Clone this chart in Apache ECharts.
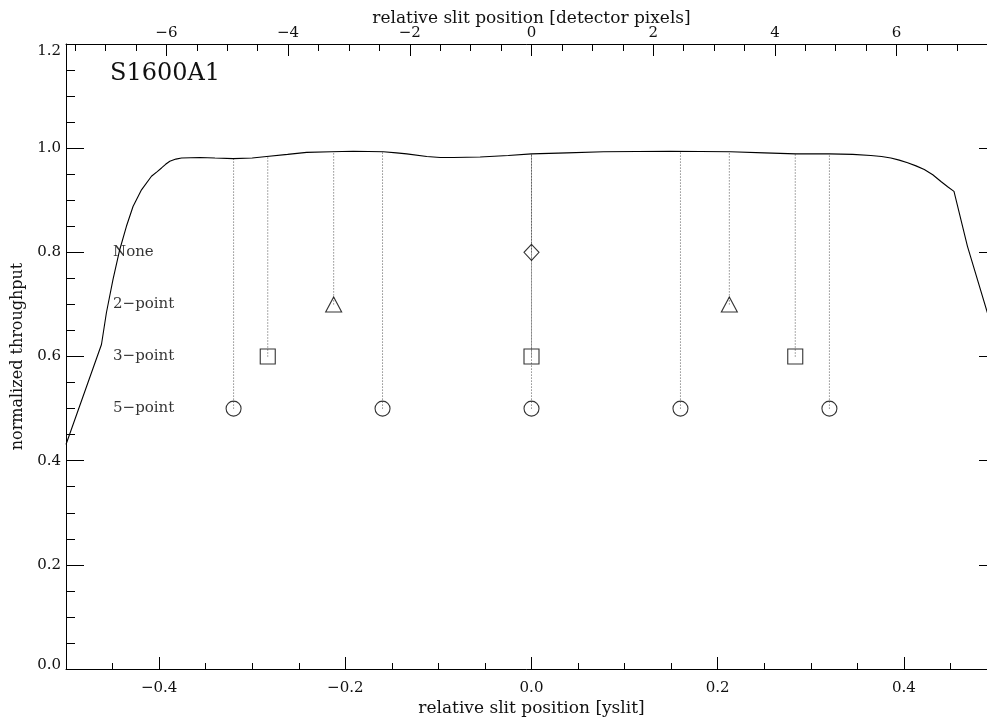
<!DOCTYPE html>
<html>
<head>
<meta charset="utf-8">
<script src="https://cdn.jsdelivr.net/npm/echarts@6/dist/echarts.min.js"></script>
<style>html,body{margin:0;padding:0;background:#fff;}#c{width:987px;height:722px;}</style>
</head>
<body>
<div id="c"></div>
<script>
// ---- data ----
const curveX = [-0.5, -0.4619, -0.4566, -0.4495, -0.4423, -0.4351, -0.4280, -0.4189, -0.4082, -0.4020, -0.3974, -0.3930, -0.3885, -0.3820, -0.3759, -0.3562, -0.3400, -0.3204, -0.3000, -0.2845, -0.2620, -0.2415, -0.2150, -0.1914, -0.1591, -0.1450, -0.1340, -0.1125, -0.0980, -0.0839, -0.0552, -0.0250, 0.0, 0.0380, 0.0774, 0.1491, 0.2137, 0.2500, 0.2839, 0.3198, 0.3450, 0.3645, 0.3760, 0.3860, 0.3950, 0.4040, 0.4130, 0.4219, 0.4310, 0.4398, 0.4470, 0.4538, 0.4682, 0.4897, 0.5];
const curveY = [0.431, 0.623, 0.684, 0.748, 0.805, 0.850, 0.888, 0.920, 0.946, 0.955, 0.962, 0.969, 0.975, 0.979, 0.981, 0.982, 0.981, 0.980, 0.981, 0.984, 0.988, 0.992, 0.993, 0.994, 0.993, 0.991, 0.989, 0.984, 0.982, 0.982, 0.983, 0.986, 0.989, 0.991, 0.993, 0.994, 0.993, 0.991, 0.989, 0.989, 0.988, 0.986, 0.984, 0.981, 0.977, 0.972, 0.966, 0.959, 0.949, 0.936, 0.926, 0.917, 0.812, 0.684, 0.62];

const methodNames = ['None', '2\u2212point', '3\u2212point', '5\u2212point'];
const methodLevel = [0.8, 0.7, 0.6, 0.5];
const noneX = [0.0];
const twoX = [-0.2125, 0.2125];
const threeX = [-0.2833, 0.0, 0.2833];
const fiveX = [-0.32, -0.16, 0.0, 0.16, 0.32];

const yTicks = [0.0, 0.2, 0.4, 0.6, 0.8, 1.0, 1.2];
const apertureName = 'S1600A1';
const pixRange = 7.65; // detector pixels spanned by yslit -0.5..0.5

// ---- helpers ----
function curveAt(x) {
  for (let i = 0; i < curveX.length - 1; i++) {
    if (x >= curveX[i] && x <= curveX[i + 1]) {
      const t = (x - curveX[i]) / (curveX[i + 1] - curveX[i]);
      return curveY[i] + t * (curveY[i + 1] - curveY[i]);
    }
  }
  return curveY[curveY.length - 1];
}
const FONT = 'DejaVu Serif';
const TXT = '#111';
const minus = s => s.replace('-', '\u2212');

const groups = [
  { xs: noneX, level: methodLevel[0], symbol: 'diamond', size: [15, 16] },
  { xs: twoX, level: methodLevel[1], symbol: 'triangle', size: [16, 15] },
  { xs: threeX, level: methodLevel[2], symbol: 'rect', size: 15 },
  { xs: fiveX, level: methodLevel[3], symbol: 'circle', size: 15 }
];

const series = [];
series.push({
  type: 'line', xAxisIndex: 0, yAxisIndex: 0,
  data: curveX.map((x, i) => [x, curveY[i]]),
  showSymbol: false, smooth: false,
  lineStyle: { color: '#000', width: 1.1 }, z: 5, silent: true
});
groups.forEach(g => {
  g.xs.forEach(x => {
    series.push({
      type: 'line', xAxisIndex: 0, yAxisIndex: 0,
      data: [[x, g.level], [x, curveAt(x)]],
      showSymbol: false,
      lineStyle: { color: '#555', width: 1, type: [1, 2] }, z: 3, silent: true
    });
  });
});
groups.forEach(g => {
  series.push({
    type: 'scatter', xAxisIndex: 0, yAxisIndex: 0,
    data: g.xs.map(x => [x, g.level]),
    symbol: g.symbol, symbolSize: g.size,
    itemStyle: { color: 'rgba(0,0,0,0)', borderColor: '#000', borderWidth: 1.1 },
    z: 6, silent: true
  });
});
const LABEL_X = -0.4495;
series.push({
  type: 'scatter', xAxisIndex: 0, yAxisIndex: 0,
  data: methodNames.map((n, i) => ({ value: [LABEL_X, methodLevel[i]], name: n })),
  symbolSize: 0,
  label: { show: true, position: 'right', distance: 0, formatter: p => p.name,
           fontFamily: FONT, fontSize: 15, color: '#000' },
  z: 7, silent: true
});

const lineCfg = { show: true, onZero: false, lineStyle: { color: '#000', width: 1 } };

const option = {
  animation: false,
  backgroundColor: '#fff',
  grid: { left: 66, top: 44, width: 931, height: 625, containLabel: false, outerBoundsMode: 'none' },
  xAxis: [
    {
      type: 'value', position: 'bottom', min: -0.5, max: 0.5,
      minInterval: 0.2, maxInterval: 0.2, splitNumber: 5,
      axisLine: lineCfg,
      axisTick: { show: true, inside: true, length: 12, lineStyle: { color: '#000' } },
      splitLine: { show: false },
      axisLabel: { show: true, margin: 12, showMinLabel: false, showMaxLabel: false,
        fontFamily: FONT, fontSize: 15, color: TXT,
        formatter: v => minus(v.toFixed(1)) },
      name: 'relative slit position [yslit]', nameLocation: 'middle', nameGap: 31,
      nameMoveOverlap: false,
      nameTextStyle: { fontFamily: FONT, fontSize: 17, color: TXT }
    },
    {
      type: 'value', position: 'bottom', min: -0.5, max: 0.5, interval: 0.05,
      axisLine: { show: false, onZero: false },
      axisTick: { show: true, inside: true, length: 6, lineStyle: { color: '#000' } },
      splitLine: { show: false }, axisLabel: { show: false }
    },
    {
      type: 'value', position: 'top', min: -pixRange, max: pixRange,
      minInterval: 2, maxInterval: 2, splitNumber: 8,
      axisLine: lineCfg,
      axisTick: { show: true, inside: true, length: 12, lineStyle: { color: '#000' } },
      splitLine: { show: false },
      axisLabel: { show: true, margin: 3, showMinLabel: false, showMaxLabel: false,
        fontFamily: FONT, fontSize: 15, color: TXT,
        formatter: v => minus(String(Math.round(v))) },
      name: 'relative slit position [detector pixels]', nameLocation: 'middle', nameGap: 17,
      nameMoveOverlap: false,
      nameTextStyle: { fontFamily: FONT, fontSize: 17, color: TXT }
    },
    {
      type: 'value', position: 'top', min: -pixRange, max: pixRange,
      minInterval: 0.5, maxInterval: 0.5, splitNumber: 30,
      axisLine: { show: false, onZero: false },
      axisTick: { show: true, inside: true, length: 7, lineStyle: { color: '#000' } },
      splitLine: { show: false }, axisLabel: { show: false }
    }
  ],
  yAxis: [
    {
      type: 'value', position: 'left', min: yTicks[0], max: yTicks[yTicks.length - 1], interval: 0.2,
      axisLine: lineCfg,
      axisTick: { show: true, inside: true, length: 18, lineStyle: { color: '#000' } },
      minorTick: { show: true, splitNumber: 4, length: 9, lineStyle: { color: '#000' } },
      splitLine: { show: false },
      axisLabel: { show: true, margin: 5, fontFamily: FONT, fontSize: 15, color: TXT,
        formatter: v => {
          const s = v.toFixed(1);
          if (Math.abs(v - 1.2) < 1e-9) return '{t|' + s + '}';
          if (Math.abs(v) < 1e-9) return '{b|' + s + '}';
          return s;
        },
        rich: {
          t: { fontFamily: FONT, fontSize: 15, color: TXT, padding: [14, 0, 0, 0] },
          b: { fontFamily: FONT, fontSize: 15, color: TXT, padding: [0, 0, 8, 0] }
        }
      },
      name: 'normalized throughput', nameLocation: 'middle', nameGap: 40,
      nameMoveOverlap: false,
      nameTextStyle: { fontFamily: FONT, fontSize: 16, color: TXT }
    },
    {
      type: 'value', position: 'right', min: yTicks[0], max: yTicks[yTicks.length - 1], interval: 0.2,
      axisLine: lineCfg,
      axisTick: { show: true, inside: true, length: 18, lineStyle: { color: '#000' } },
      minorTick: { show: true, splitNumber: 4, length: 9, lineStyle: { color: '#000' } },
      splitLine: { show: false }, axisLabel: { show: false }
    }
  ],
  graphic: [
    { type: 'text', left: 110, top: 62,
      style: { text: apertureName, fontFamily: FONT, fontSize: 24, fill: TXT } }
  ],
  series: series
};

const chart = echarts.init(document.getElementById('c'), null, { renderer: 'canvas' });
chart.setOption(option);
</script>
</body>
</html>
